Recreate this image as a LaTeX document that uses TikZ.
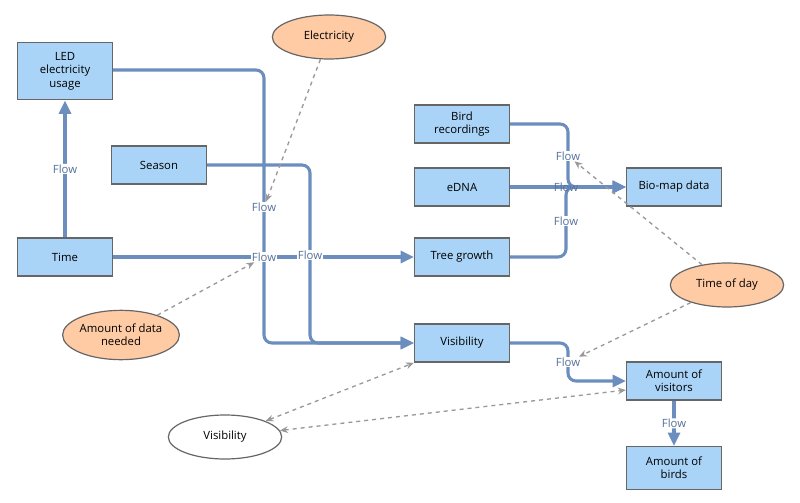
\documentclass[tikz,border=0pt]{standalone}
\usepackage{fontspec}
\setmainfont{Open Sans}
\usetikzlibrary{arrows.meta,shapes.geometric}
\definecolor{flow}{HTML}{6C8EBF}
\definecolor{boxf}{HTML}{A9D4F7}
\definecolor{ellf}{HTML}{FFCBA4}
\begin{document}
\begin{tikzpicture}[x=0.75pt,y=-0.75pt,
  box/.style={draw=black!60,line width=1.2pt,fill=boxf,minimum width=71pt,minimum height=28.5pt,inner sep=1pt,align=center,font=\fontsize{8.5}{10}\selectfont},
  ell/.style={ellipse,draw=black!60,line width=0.9pt,fill=ellf,minimum width=85pt,minimum height=33pt,inner sep=0pt,align=center,font=\fontsize{8.5}{10}\selectfont},
  fl/.style={draw=flow,line width=2.3pt,rounded corners=6pt,-{Triangle[length=10pt,width=9pt]}},
  lab/.style={fill=white,inner sep=0.5pt,text=flow!80!black,font=\fontsize{8.5}{10}\selectfont},
  dsh/.style={draw=black!40,line width=1pt,dashed,-{Stealth[length=6pt,width=5pt]}},
  ddsh/.style={draw=black!40,line width=1pt,dashed,{Stealth[length=6pt,width=5pt]}-{Stealth[length=6pt,width=5pt]}}]
\useasboundingbox (0,0) rectangle (800,503);
\node[box,minimum height=43pt] (led) at (65,71) {LED\\electricity\\usage};
\node[box] (season) at (159,165) {Season};
\node[box] (time) at (65,257) {Time};
\node[box] (bird) at (462,124) {Bird\\recordings};
\node[box] (edna) at (462,187) {eDNA};
\node[box] (tree) at (462,257) {Tree growth};
\node[box] (vis) at (462,343) {Visibility};
\node[box] (bio) at (674,187) {Bio-map data};
\node[box] (visit) at (674,381) {Amount of\\visitors};
\node[box,minimum height=32pt] (birds) at (674,468) {Amount of\\birds};
\node[ell] (elec) at (329,37) {Electricity};
\node[ell] (tod) at (727,285) {Time of day};
\node[ell,minimum height=37pt] (data) at (121,335) {Amount of data\\needed};
\node[ell,fill=white] (vell) at (225,437) {Visibility};

\draw[fl] (time) -- (led) node[lab,pos=0.5] (f0) {Flow};
\draw[fl] (led.east |- 0,70) -- (264,70) -- (264,343) -- (vis.west);
\draw[fl] (season.east) -- (310,165) -- (310,343) -- (vis.west);
\draw[fl] (time.east) -- (tree.west);
\node[lab] (f1) at (264,207) {Flow};
\node[lab] (f2) at (264,257) {Flow};
\node[lab] (f3) at (310,255) {Flow};
\draw[fl] (bird.east) -- (568,124) -- (568,187) -- (bio.west);
\draw[fl] (edna.east) -- (bio.west);
\draw[fl] (tree.east) -- (566,257) -- (566,187) -- (bio.west);
\node[lab] (f4) at (568,156) {Flow};
\node[lab,fill=none] (f5) at (566,187) {Flow};
\node[lab] (f6) at (566,221) {Flow};
\draw[fl] (vis.east) -- (568,343) -- (568,381) -- (visit.west);
\node[lab] (f7) at (568,362) {Flow};
\draw[fl] (visit) -- (birds) node[lab,pos=0.5] (f8) {Flow};

\draw[dsh] (elec) -- (f1);
\draw[dsh] (data) -- (f2);
\draw[dsh] (tod) -- (f4);
\draw[dsh] (tod) -- (f7);
\draw[ddsh] (vell) -- (vis.south west);
\draw[ddsh] (vell) -- (visit.west |- 0,390);
\end{tikzpicture}
\end{document}
